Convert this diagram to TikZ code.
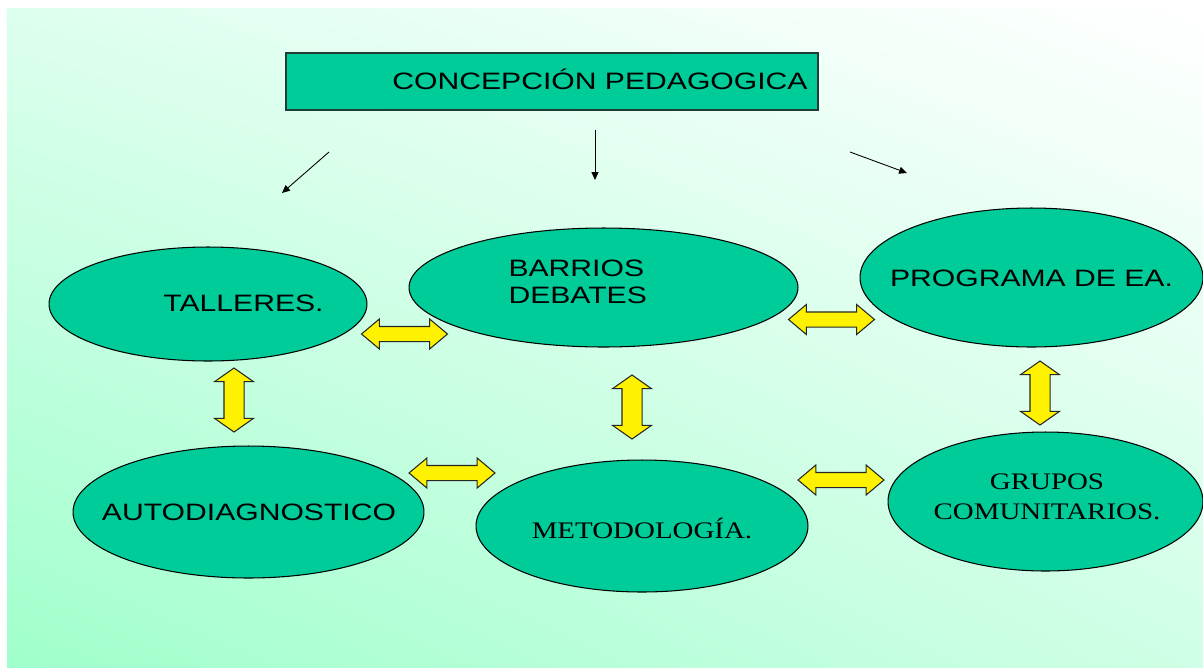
\documentclass[tikz,border=0pt]{standalone}
\usepackage{xcolor}
\usepackage{fontspec}
\setmainfont{Liberation Sans}[FakeStretch=1.27]
\newfontfamily\serifmap{Liberation Serif}[FakeStretch=1.22]
\usetikzlibrary{shapes.geometric,shapes.arrows,arrows.meta,shadings}
\definecolor{mapgreen}{HTML}{00CC99}
\definecolor{mapedge}{HTML}{1F3D36}
\definecolor{backll}{HTML}{A0FFCC}
\definecolor{backul}{HTML}{DDFFEE}
\definecolor{backlr}{HTML}{CFFFE6}

\begin{document}
\begin{tikzpicture}[x=0.02cm, y=-0.02cm, line width=0.6pt,
    idea/.style={ellipse, draw=black, fill=mapgreen, inner sep=0pt},
    swap/.style={double arrow, draw=black!85, fill=yellow, inner xsep=0pt, inner ysep=0.14cm,
        minimum height=1.72cm, minimum width=0.58cm,
        double arrow head extend=0.15cm, double arrow tip angle=80},
    swapv/.style={double arrow, draw=black!85, fill=yellow, inner xsep=0pt, inner ysep=0.19cm, rotate=90,
        minimum height=1.28cm, minimum width=0.76cm,
        double arrow head extend=0.19cm, double arrow tip angle=110},
    lbl/.style={inner sep=0pt, font=\fontsize{13.5}{15.3}\selectfont},
    feed/.style={-{Triangle[length=4.5pt, width=4pt]}, line width=0.5pt}]
    \useasboundingbox (0,0) rectangle (1203,667);
    \shade[upper left=backul, upper right=white, lower left=backll, lower right=backlr] (7,8) rectangle (1203,667);

    \node[draw=mapedge, line width=0.9pt, fill=mapgreen, minimum width=10.64cm, minimum height=1.14cm] (concep) at (552,81.5) {};
    \node[lbl] (concepText) at (600,79) {CONCEPCIÓN PEDAGOGICA};

    \coordinate (toTalA) at (329,152);
    \coordinate (toTalB) at (282,193);
    \coordinate (toBarA) at (595,130);
    \coordinate (toBarB) at (595,180);
    \coordinate (toProA) at (850,152);
    \coordinate (toProB) at (907,173);
    \draw[feed] (toTalA) -- (toTalB);
    \draw[feed] (toBarA) -- (toBarB);
    \draw[feed] (toProA) -- (toProB);

    \node[idea, minimum width=6.36cm, minimum height=2.28cm] (tal) at (208,304) {};
    \node[idea, minimum width=7.78cm, minimum height=2.38cm] (bar) at (603.5,287.5) {};
    \node[idea, minimum width=6.86cm, minimum height=2.78cm] (pro) at (1031.5,277.5) {};
    \node[idea, minimum width=7.02cm, minimum height=2.64cm] (aut) at (248.5,512) {};
    \node[idea, minimum width=6.64cm, minimum height=2.64cm] (met) at (642,526) {};
    \node[idea, minimum width=6.30cm, minimum height=2.78cm] (gru) at (1045.5,501.5) {};

    \node[lbl] (talText) at (243.5,303) {TALLERES.};
    \node[lbl, align=left, anchor=west] (barText) at (508,281.5) {BARRIOS\\DEBATES};
    \node[lbl] (proText) at (1031.5,278) {PROGRAMA DE EA.};
    \node[lbl] (autText) at (249,512) {AUTODIAGNOSTICO};
    \node[lbl, font=\serifmap\fontsize{13.5}{15.3}\selectfont] (metText) at (642,528) {METODOLOGÍA.};
    \node[lbl, align=center, font=\serifmap\fontsize{13.5}{17}\selectfont] (gruText) at (1047,497) {GRUPOS\\COMUNITARIOS.};

    \node[swap] (talBar) at (404.5,334) {};
    \node[swap] (autMet) at (452,473) {};
    \node[swap] (barPro) at (831.5,319.5) {};
    \node[swap] (metGru) at (841,480) {};
    \node[swapv] (talAut) at (234,400) {};
    \node[swapv] (barMet) at (632,407) {};
    \node[swapv] (proGru) at (1040,393) {};
\end{tikzpicture}
\end{document}
